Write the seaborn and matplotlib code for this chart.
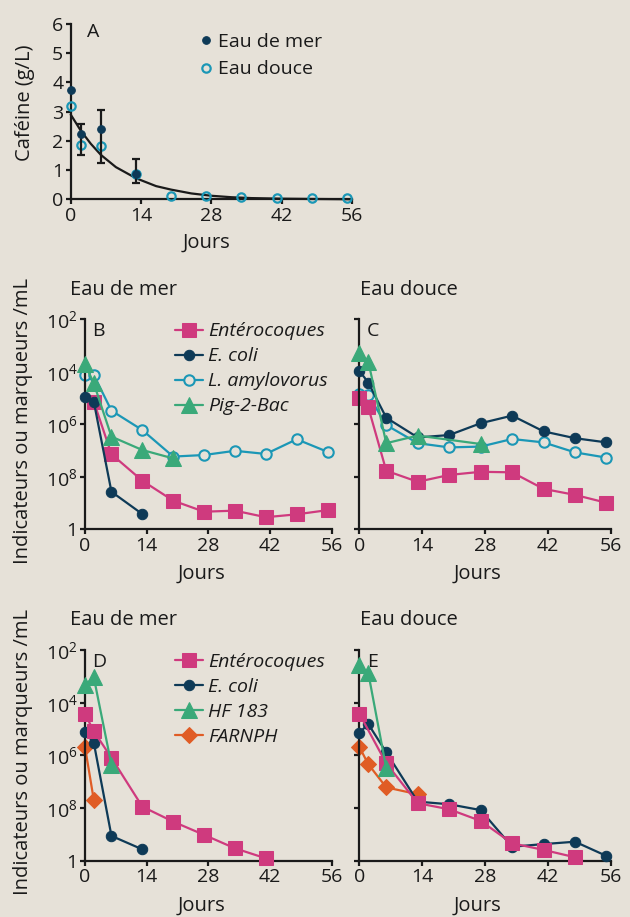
import matplotlib
matplotlib.use("Agg")
import matplotlib.pyplot as plt
import seaborn as sns

# Colours
BG = "#e6e1d8"
INK = "#1a1a1a"
PINK = "#cf3a7e"
NAVY = "#0e3a57"
CYAN = "#1b97b6"
GREEN = "#3aa979"
ORANGE = "#e05c25"

# ---- Panel A : caffeine (g/L) ----
caf_mer_days = [0, 2, 6, 13]
caf_mer = [3.74, 2.22, 2.40, 0.87]
caf_err_days = [2, 6, 13]
caf_err_low = [1.52, 1.24, 0.55]
caf_err_high = [2.58, 3.06, 1.37]
caf_douce_days = [0, 2, 6, 13, 20, 27, 34, 41, 48, 55]
caf_douce = [3.20, 1.84, 1.82, 0.85, 0.11, 0.12, 0.08, 0.05, 0.05, 0.05]
fit_days = [0, 2, 4, 6, 9, 13, 17, 20, 24, 28, 32, 36, 42, 48, 56]
fit_vals = [2.90, 2.35, 1.90, 1.52, 1.10, 0.72, 0.45, 0.33, 0.20, 0.12, 0.07, 0.04, 0.02, 0.01, 0.0]

# ---- Panels B-E : levels on the log axis (0 = bottom "1", 8 = top) ----
day_ticks = [0, 14, 28, 42, 56]
level_ticks = [0, 2, 4, 6, 8]
level_labels = ["1", r"$\mathregular{10^{8}}$", r"$\mathregular{10^{6}}$",
                r"$\mathregular{10^{4}}$", r"$\mathregular{10^{2}}$"]
all_days = [0, 2, 6, 13, 20, 27, 34, 41, 48, 55]

# B : eau de mer
b_entero_days = [2, 6, 13, 20, 27, 34, 41, 48, 55]
b_entero = [4.86, 2.86, 1.85, 1.09, 0.67, 0.71, 0.46, 0.57, 0.73]
b_ecoli_days = [0, 2, 6, 13]
b_ecoli = [5.05, 4.86, 1.43, 0.58]
b_amylo = [5.88, 5.88, 4.52, 3.78, 2.77, 2.83, 2.99, 2.87, 3.43, 2.95]
b_pig_days = [0, 2, 6, 13, 20]
b_pig = [6.29, 5.56, 3.53, 3.02, 2.70]

# C : eau douce
c_entero = [4.99, 4.65, 2.23, 1.81, 2.07, 2.19, 2.17, 1.54, 1.31, 1.01]
c_ecoli = [6.04, 5.59, 4.25, 3.50, 3.59, 4.04, 4.33, 3.73, 3.47, 3.31]
c_amylo = [5.15, 5.12, 3.97, 3.28, 3.12, 3.15, 3.44, 3.31, 2.93, 2.73]
c_pig_days = [0, 2, 6, 13, 27]
c_pig = [6.70, 6.39, 3.28, 3.57, 3.25]

# D : eau de mer
d_entero_days = [0, 2, 6, 13, 20, 27, 34, 41]
d_entero = [5.57, 4.92, 3.91, 2.06, 1.49, 0.99, 0.48, 0.10]
d_ecoli_days = [0, 2, 6, 13]
d_ecoli = [4.88, 4.48, 0.95, 0.44]
d_hf_days = [0, 2, 6]
d_hf = [6.67, 6.96, 3.64]
d_farn_days = [0, 2]
d_farn = [4.33, 2.31]

# E : eau douce
e_entero_days = [0, 6, 13, 20, 27, 34, 41, 48]
e_entero = [5.59, 3.70, 2.19, 1.96, 1.52, 0.67, 0.42, 0.14]
e_ecoli = [4.86, 5.19, 4.12, 2.25, 2.15, 1.93, 0.54, 0.64, 0.73, 0.19]
e_hf_days = [0, 2, 6]
e_hf = [7.42, 7.13, 3.51]
e_farn_days = [0, 2, 6, 13]
e_farn = [4.33, 3.67, 2.79, 2.53]

STYLES = {
    "Entérocoques": dict(color=PINK, marker="s", markersize=9.5, markerfacecolor=PINK, markeredgecolor=PINK),
    "E. coli": dict(color=NAVY, marker="o", markersize=7.5, markerfacecolor=NAVY, markeredgecolor=NAVY),
    "L. amylovorus": dict(color=CYAN, marker="o", markersize=7.5, markerfacecolor=BG, markeredgecolor=CYAN,
                          markeredgewidth=1.5),
    "Pig-2-Bac": dict(color=GREEN, marker="^", markersize=11, markerfacecolor=GREEN, markeredgecolor=GREEN),
    "HF 183": dict(color=GREEN, marker="^", markersize=11, markerfacecolor=GREEN, markeredgecolor=GREEN),
    "FARNPH": dict(color=ORANGE, marker="D", markersize=8.5, markerfacecolor=ORANGE, markeredgecolor=ORANGE),
}

sns.set_theme(style="ticks", rc={"axes.facecolor": BG, "figure.facecolor": BG,
                                 "axes.edgecolor": INK, "text.color": INK,
                                 "xtick.color": INK, "ytick.color": INK,
                                 "axes.linewidth": 1.6})
plt.rcParams["font.family"] = ["Open Sans", "DejaVu Sans"]
plt.rcParams["mathtext.fontset"] = "custom"
plt.rcParams["mathtext.rm"] = "Open Sans"
FS = 14
LFS = 14.5


def style_axes(ax):
    sns.despine(ax=ax)
    ax.tick_params(axis="both", direction="out", length=3.8, width=1.6, labelsize=FS, pad=1.5)


def draw(ax, name, days, vals, z):
    sns.lineplot(x=days, y=vals, ax=ax, linewidth=1.6, clip_on=False, zorder=z,
                 label=name, legend=False, **STYLES[name])


def level_panel(ax, letter, title, series, with_labels, legend_order):
    for name, days, vals, z in series:
        draw(ax, name, days, vals, z)
    ax.set_xlim(0, 56)
    ax.set_ylim(0, 8)
    ax.set_xticks(day_ticks)
    ax.set_yticks(level_ticks)
    ax.set_yticklabels(level_labels if with_labels else [])
    ax.set_xlabel("")
    ax.set_ylabel("")
    style_axes(ax)
    ax.text(0.03, 0.945, letter, transform=ax.transAxes, fontsize=FS, ha="left", va="center")
    ax.text(-0.06 if with_labels else 0.003, 1.14, title, transform=ax.transAxes,
            fontsize=LFS, ha="left", va="center")
    ax.text(0.47, -0.21, "Jours", transform=ax.transAxes, fontsize=LFS, ha="center", va="center")
    if with_labels:
        ax.text(-0.25, 0.515, "Indicateurs ou marqueurs /mL", transform=ax.transAxes,
                fontsize=LFS, rotation=90, ha="center", va="center")
    if legend_order:
        handles, labels = ax.get_legend_handles_labels()
        order = [labels.index(n) for n in legend_order]
        ax.legend([handles[i] for i in order], [labels[i] for i in order],
                  loc="upper left", bbox_to_anchor=(0.364, 0.985), frameon=False,
                  borderpad=0, borderaxespad=0, handlelength=1.45, handletextpad=0.25,
                  labelspacing=0.36, prop={"style": "italic", "size": FS})


fig = plt.figure(figsize=(6.3, 9.17), dpi=100)

# Panel A
axA = fig.add_axes([0.1122, 0.7827, 0.4465, 0.1912])
sns.lineplot(x=fit_days, y=fit_vals, ax=axA, color=INK, linewidth=1.6, clip_on=False, zorder=2)
sns.lineplot(x=caf_douce_days, y=caf_douce, ax=axA, linestyle="", marker="o", markersize=6,
             markerfacecolor="none", markeredgecolor=CYAN, markeredgewidth=1.6, clip_on=False,
             zorder=3, label="Eau douce", legend=False)
mids = caf_mer[1:]
axA.errorbar(caf_err_days, mids,
             yerr=[[m - lo for m, lo in zip(mids, caf_err_low)], [hi - m for m, hi in zip(mids, caf_err_high)]],
             fmt="none", ecolor=INK, elinewidth=1.6, capsize=3, capthick=1.6, zorder=4)
sns.lineplot(x=caf_mer_days, y=caf_mer, ax=axA, linestyle="", marker="o", markersize=5.5,
             markerfacecolor=NAVY, markeredgecolor=NAVY, clip_on=False, zorder=5,
             label="Eau de mer", legend=False)
axA.set_xlim(0, 56)
axA.set_ylim(0, 6)
axA.set_xticks(day_ticks)
axA.set_yticks(range(7))
axA.set_xlabel("")
axA.set_ylabel("")
style_axes(axA)
axA.text(0.059, 0.955, "A", transform=axA.transAxes, fontsize=FS, ha="left", va="center")
axA.text(0.484, -0.25, "Jours", transform=axA.transAxes, fontsize=LFS, ha="center", va="center")
axA.text(-0.163, 0.55, "Caféine (g/L)", transform=axA.transAxes, fontsize=LFS,
         rotation=90, ha="center", va="center")
hA, lA = axA.get_legend_handles_labels()
axA.legend([hA[1], hA[0]], [lA[1], lA[0]], loc="upper left", bbox_to_anchor=(0.46, 0.95),
           frameon=False, borderpad=0, borderaxespad=0, handlelength=0.6, handletextpad=0.3,
           labelspacing=0.5, numpoints=1, prop={"size": FS})

axB = fig.add_axes([0.1349, 0.4228, 0.3921, 0.2290])
level_panel(axB, "B", "Eau de mer", [
    ("Entérocoques", b_entero_days, b_entero, 2.5),
    ("L. amylovorus", all_days, b_amylo, 2),
    ("E. coli", b_ecoli_days, b_ecoli, 3),
    ("Pig-2-Bac", b_pig_days, b_pig, 4),
], True, ["Entérocoques", "E. coli", "L. amylovorus", "Pig-2-Bac"])

axC = fig.add_axes([0.5703, 0.4228, 0.3995, 0.2290])
level_panel(axC, "C", "Eau douce", [
    ("Entérocoques", all_days, c_entero, 2.5),
    ("L. amylovorus", all_days, c_amylo, 2),
    ("E. coli", all_days, c_ecoli, 3),
    ("Pig-2-Bac", c_pig_days, c_pig, 4),
], False, None)

axD = fig.add_axes([0.1349, 0.0611, 0.3921, 0.2301])
level_panel(axD, "D", "Eau de mer", [
    ("FARNPH", d_farn_days, d_farn, 2.5),
    ("E. coli", d_ecoli_days, d_ecoli, 3),
    ("Entérocoques", d_entero_days, d_entero, 3.5),
    ("HF 183", d_hf_days, d_hf, 4),
], True, ["Entérocoques", "E. coli", "HF 183", "FARNPH"])

axE = fig.add_axes([0.5703, 0.0611, 0.3995, 0.2301])
level_panel(axE, "E", "Eau douce", [
    ("FARNPH", e_farn_days, e_farn, 2.5),
    ("E. coli", all_days, e_ecoli, 3),
    ("Entérocoques", e_entero_days, e_entero, 3.5),
    ("HF 183", e_hf_days, e_hf, 4),
], False, None)

fig.savefig("out.png", dpi=100, facecolor=BG)
